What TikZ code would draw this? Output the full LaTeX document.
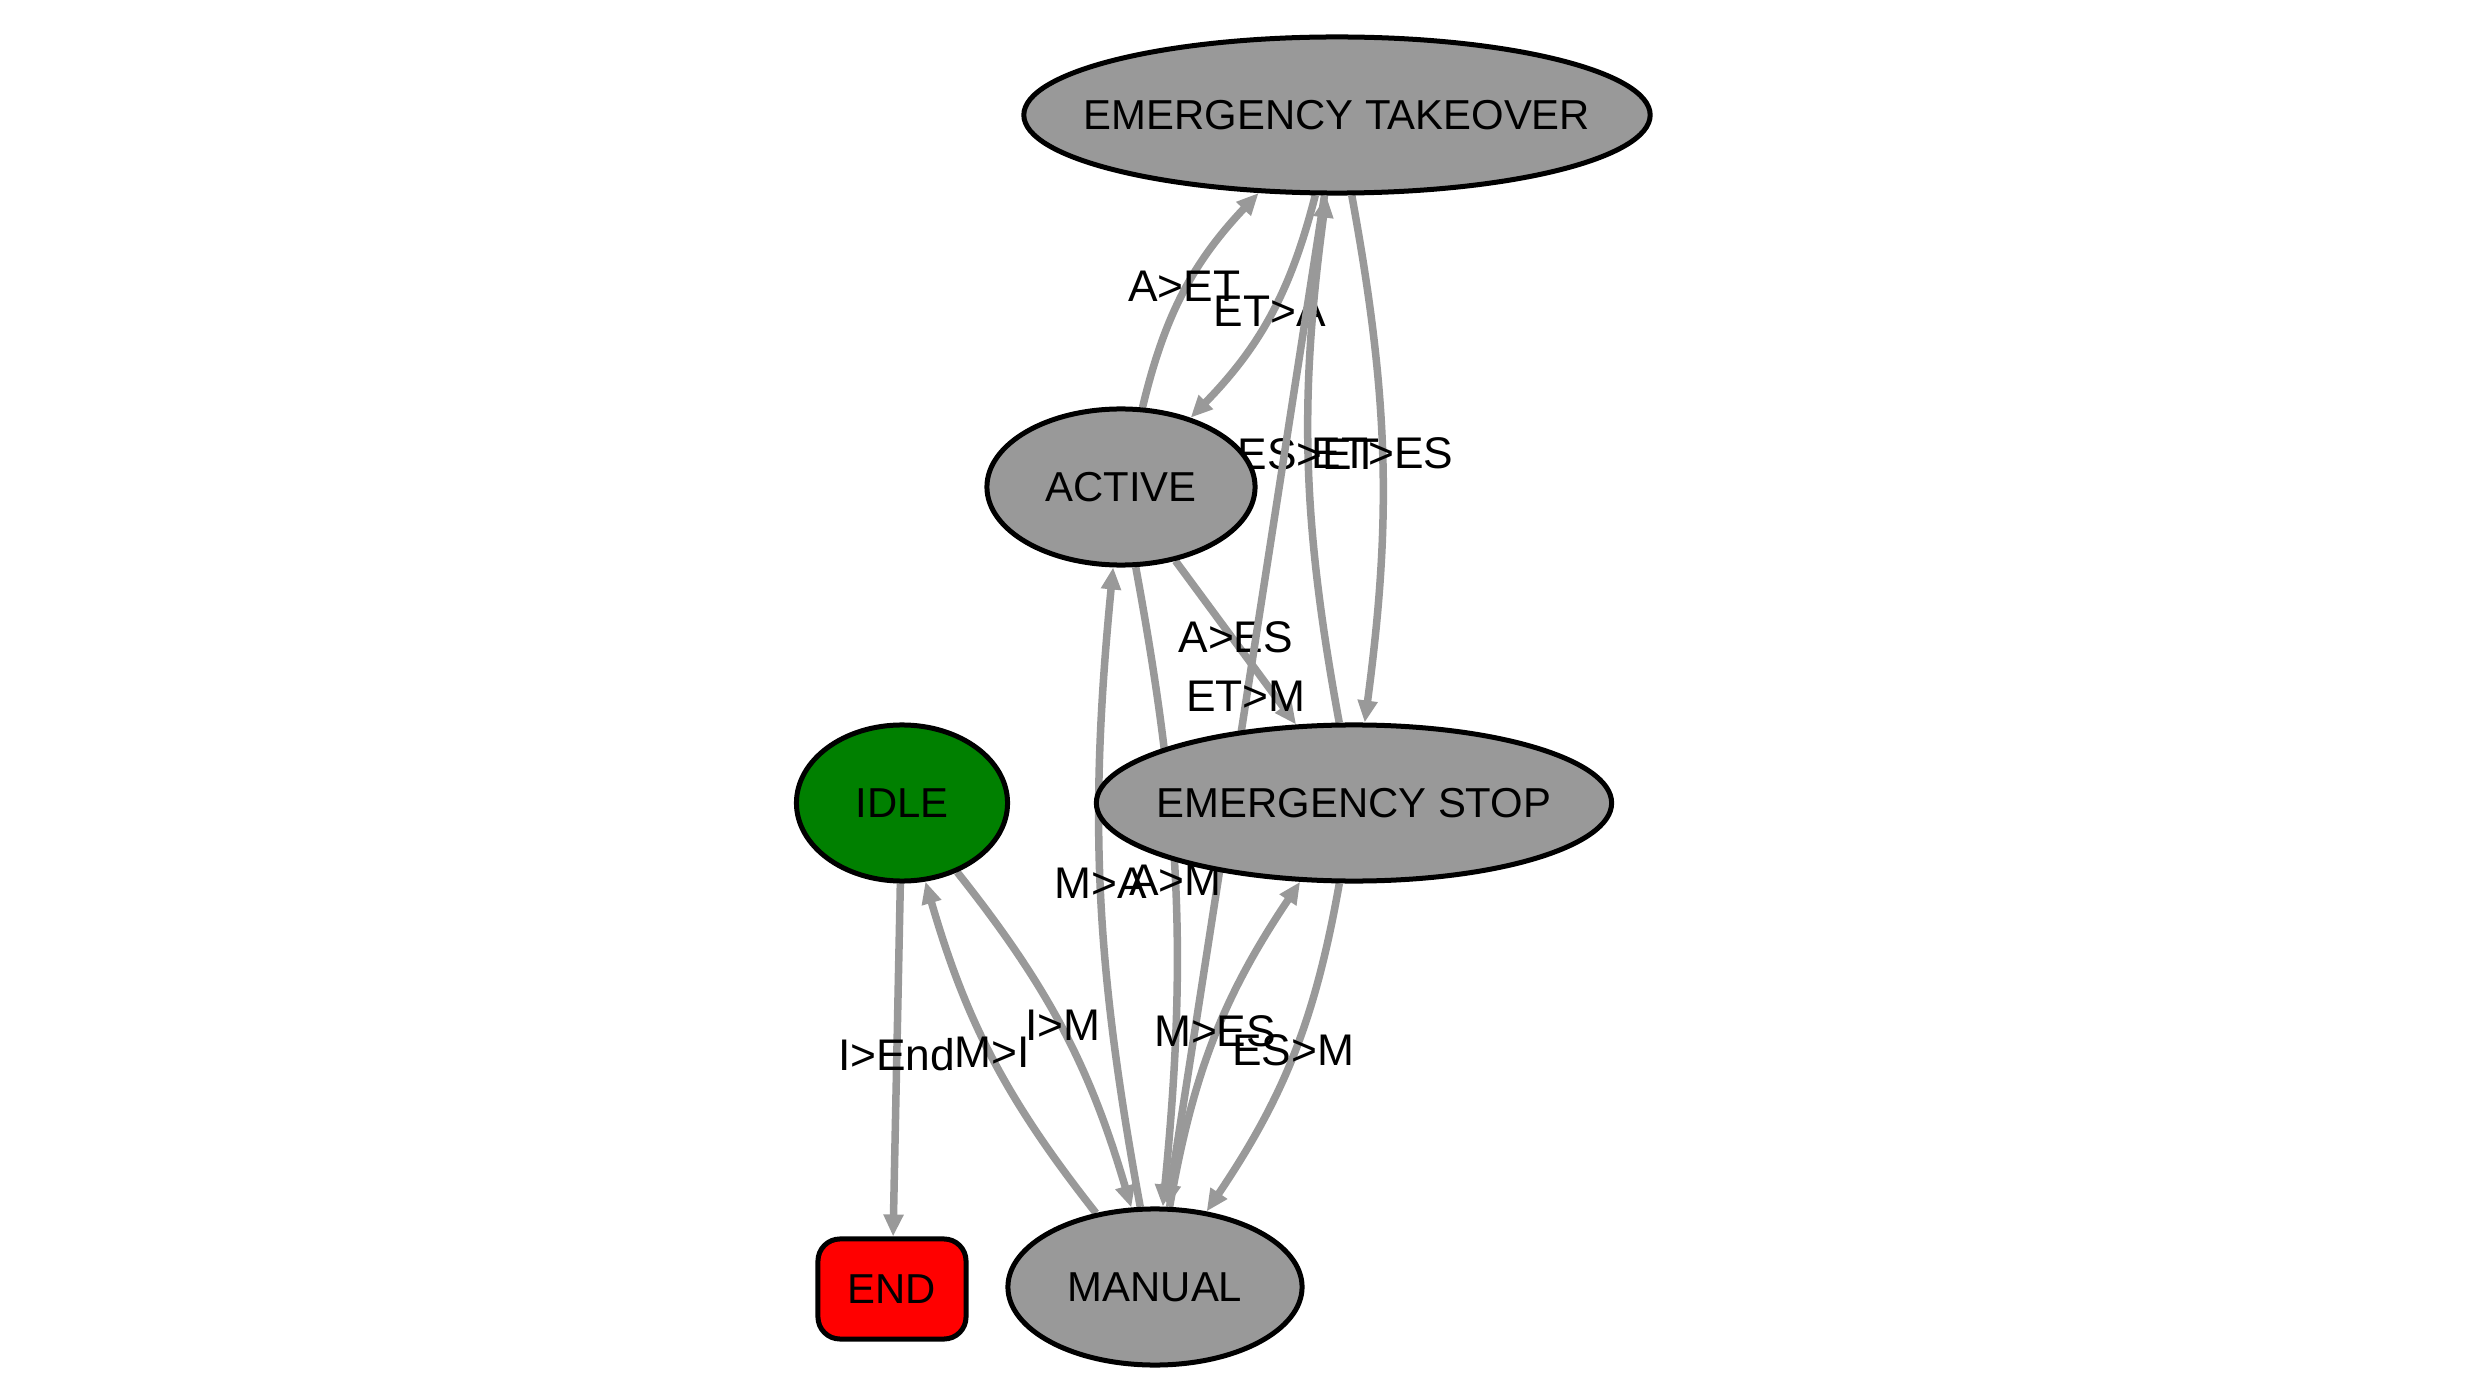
\documentclass[tikz,border=0pt]{standalone}
\usepackage{fontspec}
\setmainfont{Liberation Sans}
\usepackage{tikz}
\usetikzlibrary{shapes, arrows.meta}

\definecolor{stategray}{HTML}{999999}
\definecolor{idlegreen}{HTML}{008000}
\definecolor{endred}{HTML}{FF0000}

% transitions go below the states
\pgfdeclarelayer{background}
\pgfsetlayers{background,main}

% keep the name from widening the ellipse
\newcommand{\statename}[1]{\makebox[0pt]{#1}}

\begin{document}
\begin{tikzpicture}[x=0.01cm, y=-0.01cm,
  state/.style={ellipse, draw=black, line width=0.05cm, fill=stategray, minimum height=1.56cm, inner sep=0pt, font=\fontsize{11.9}{14}\selectfont},
  trans/.style={draw=stategray, line width=0.075cm, -{Triangle[length=0.22cm, width=0.19cm]}},
  tlabel/.style={midway, inner sep=0pt, yshift=0.05cm, text=black, font=\fontsize{12.6}{15}\selectfont}]
\useasboundingbox (0,0) rectangle (2477,1394);

% states
\node[state, minimum width=6.26cm] (et) at (1337,115) {\statename{EMERGENCY TAKEOVER}};
\node[state, minimum width=2.68cm] (act) at (1121,487) {\statename{ACTIVE}};
\node[state, minimum width=2.11cm, fill=idlegreen] (idle) at (902,803) {\statename{IDLE}};
\node[state, minimum width=5.15cm] (es) at (1354,803) {\statename{EMERGENCY STOP}};
\node[state, minimum width=2.94cm] (man) at (1155,1287) {\statename{MANUAL}};
\node[rectangle, rounded corners=0.22cm, draw=black, line width=0.05cm, fill=endred, minimum width=1.48cm, minimum height=1.0cm, inner sep=0pt, font=\fontsize{11.9}{14}\selectfont] (end) at (892,1289) {END};

% transitions
\begin{pgfonlayer}{background}
\draw[trans] (act) to[bend left=15] node[tlabel] {A>ET} (et);
\draw[trans] (et) to[bend left=15] node[tlabel] {ET>A} (act);
\draw[trans] (es) to[bend left=9] node[tlabel] {ES>ET} (et);
\draw[trans] (et) to[bend left=9] node[tlabel] {ET>ES} (es);
\draw[trans] (act) -- node[tlabel] {A>ES} (es);
\draw[trans] (et) -- node[tlabel] {ET>M} (man);
\draw[trans] (act) to[bend left=8] node[tlabel] {A>M} (man);
\draw[trans] (man) to[bend left=8] node[tlabel] {M>A} (act);
\draw[trans] (idle) -- node[tlabel] {I>End} (end);
\draw[trans] (man) to[bend left=11] node[tlabel] {M>I} (idle);
\draw[trans] (idle) to[bend left=11] node[tlabel] {I>M} (man);
\draw[trans] (man) to[bend left=12] node[tlabel] {M>ES} (es);
\draw[trans] (es) to[bend left=12] node[tlabel] {ES>M} (man);
\end{pgfonlayer}

\end{tikzpicture}
\end{document}
